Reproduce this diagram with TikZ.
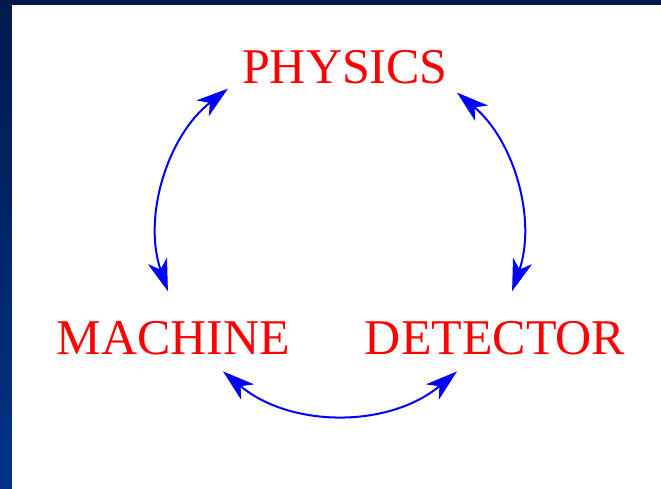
\documentclass[tikz,border=0pt]{standalone}
\usepackage{fontspec}
\setmainfont{Liberation Serif}
\usetikzlibrary{arrows.meta}
\definecolor{navytop}{HTML}{001A4D}
\definecolor{navybot}{HTML}{003388}
\definecolor{arrblue}{HTML}{0000FF}
\definecolor{labred}{HTML}{FF0000}
\begin{document}
\begin{tikzpicture}[x=1pt,y=-1pt,
  label/.style={text=labred,font=\fontsize{50}{52}\selectfont,anchor=base,inner sep=0pt},
  cyc/.style={draw=arrblue,line width=2pt,{Stealth[length=32pt,width=20pt,inset=9pt]}-{Stealth[length=32pt,width=20pt,inset=9pt]}}]
\useasboundingbox (0,0) rectangle (661,488);
\shade[top color=navytop,bottom color=navybot] (0,0) rectangle (661,488);
\fill[white] (12,5) rectangle (680,500);
\node[label] (phys) at (345,83) {PHYSICS};
\node[label] (mach) at (173.5,354) {MACHINE};
\node[label] (det) at (495,354) {DETECTOR};
\coordinate (c) at (340,232);
\path (c) ++(128:182 and -182) coordinate (la);
\path (c) ++(50:182 and -182) coordinate (ra);
\path (c) ++(230:182 and -182) coordinate (ba);
\draw[cyc] (la) arc[start angle=128,end angle=199,x radius=182,y radius=-182];
\draw[cyc] (ra) arc[start angle=50,end angle=-19,x radius=182,y radius=-182];
\draw[cyc] (ba) arc[start angle=230,end angle=310,x radius=182,y radius=-182];
\end{tikzpicture}
\end{document}
